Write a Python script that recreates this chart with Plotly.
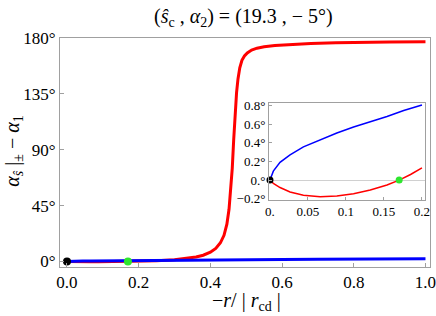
import plotly.graph_objects as go

# ---- data ----
blue_x = [0.0, 0.0044, 0.0132, 0.0264, 0.044, 0.066, 0.088, 0.11, 0.132, 0.154, 0.176, 0.2,
          0.3, 0.4, 0.5, 0.6, 0.7, 0.8, 0.9, 1.0]
blue_y = [0.0, 0.096, 0.19, 0.27, 0.356, 0.434, 0.505, 0.57, 0.626, 0.683, 0.747, 0.807,
          1.02, 1.22, 1.42, 1.6, 1.78, 1.93, 2.07, 2.2]

red_x = [0.0, 0.0044, 0.0132, 0.0264, 0.044, 0.066, 0.088, 0.11, 0.132, 0.154, 0.17, 0.185, 0.2,
         0.25, 0.3, 0.33, 0.36, 0.38, 0.40, 0.415, 0.428, 0.438, 0.446, 0.452, 0.457, 0.461,
         0.465, 0.469, 0.473, 0.477, 0.482, 0.488, 0.495, 0.503, 0.515, 0.53, 0.55, 0.58,
         0.62, 0.68, 0.75, 0.82, 0.9, 1.0]
red_y = [0.0, -0.035, -0.08, -0.128, -0.163, -0.178, -0.17, -0.146, -0.106, -0.053, 0.0, 0.06, 0.132,
         0.5, 1.3, 2.2, 3.6, 5.0, 7.5, 10.5, 15.0, 21.0, 30.0, 42.0, 57.0, 75.0,
         98.0, 120.0, 136.0, 147.0, 156.0, 162.0, 165.5, 168.0, 170.3, 171.8, 172.9, 173.9,
         174.8, 175.6, 176.1, 176.5, 176.7, 176.9]

point_x = [0.0, 0.17]
point_y = [0.0, 0.0]
point_colors = ["black", "#2ee62e"]

main_xticks = [0.0, 0.2, 0.4, 0.6, 0.8, 1.0]
main_xticklabels = ["0.0", "0.2", "0.4", "0.6", "0.8", "1.0"]
main_yticks = [0, 45, 90, 135, 180]
main_yticklabels = ["0°", "45°", "90°", "135°", "180°"]
inset_xticks = [0.0, 0.05, 0.1, 0.15, 0.2]
inset_xticklabels = ["0.", "0.05", "0.1", "0.15", "0.2"]
inset_yticks = [-0.2, 0.0, 0.2, 0.4, 0.6, 0.8]
inset_yticklabels = ["−0.2°", "0.°", "0.2°", "0.4°", "0.6°", "0.8°"]

title_text = "(<i>ŝ</i><sub>c</sub> , <i>α</i><sub>2</sub>) = (19.3 , − 5°)"
xlabel_text = "−<i>r</i>/ | <i>r</i><sub>cd</sub> |"
ylabel_text = "<i>α</i><sub><i>ŝ</i></sub> |<sub>±</sub> − <i>α</i><sub>1</sub>"

FONT = "Liberation Serif, Times New Roman, serif"
BLUE = "#0000ff"
RED = "#ff0000"
FRAME = "#a0a0a0"

FIG_W, FIG_H = 436, 316
# plot area in window pixels
L, R, T, B = 60, 430, 38, 267.5
W, H = R - L, B - T

def px(X):
    return (X - L) / W

def py(Y):
    return (B - Y) / H

fig = go.Figure()

# main plot
fig.add_trace(go.Scatter(x=red_x, y=red_y, mode="lines", line=dict(color=RED, width=3),
                         xaxis="x", yaxis="y", showlegend=False, hoverinfo="skip"))
fig.add_trace(go.Scatter(x=blue_x, y=blue_y, mode="lines", line=dict(color=BLUE, width=3),
                         xaxis="x", yaxis="y", showlegend=False, hoverinfo="skip"))
fig.add_trace(go.Scatter(x=point_x, y=point_y, mode="markers",
                         marker=dict(color=point_colors, size=8),
                         xaxis="x", yaxis="y", showlegend=False, hoverinfo="skip"))

# inset
inset_blue_x = [v for v in blue_x if v <= 0.2]
inset_blue_y = blue_y[:len(inset_blue_x)]
inset_red_x = [v for v in red_x if v <= 0.2]
inset_red_y = red_y[:len(inset_red_x)]
fig.add_trace(go.Scatter(x=inset_blue_x, y=inset_blue_y, mode="lines", line=dict(color=BLUE, width=1.5),
                         xaxis="x2", yaxis="y2", showlegend=False, hoverinfo="skip"))
fig.add_trace(go.Scatter(x=inset_red_x, y=inset_red_y, mode="lines", line=dict(color=RED, width=1.5),
                         xaxis="x2", yaxis="y2", showlegend=False, hoverinfo="skip"))
fig.add_trace(go.Scatter(x=point_x, y=point_y, mode="markers",
                         marker=dict(color=point_colors, size=7),
                         xaxis="x2", yaxis="y2", showlegend=False, hoverinfo="skip", cliponaxis=False))

axis_common = dict(showgrid=False, showline=True, linecolor=FRAME, linewidth=1, mirror=True,
                   ticks="inside", tickcolor=FRAME, automargin=False, ticklabeloverflow="allow")

fig.update_layout(
    width=FIG_W, height=FIG_H,
    margin=dict(l=L, r=FIG_W - R, t=T, b=FIG_H - B, pad=0),
    paper_bgcolor="white", plot_bgcolor="white",
    font=dict(family=FONT, color="black"),
    xaxis=dict(domain=[0, 1], range=[-0.0195, 1.0126], tickvals=main_xticks, ticktext=main_xticklabels,
               ticklen=4, tickfont=dict(size=17, family=FONT), zeroline=False, **axis_common),
    yaxis=dict(domain=[0, 1], range=[-4.5, 180], tickvals=main_yticks, ticktext=main_yticklabels,
               ticklen=4, tickfont=dict(size=17, family=FONT), zeroline=False, **axis_common),
    xaxis2=dict(domain=[px(269), px(425)], anchor="y2", range=[-0.0013, 0.204],
                tickvals=inset_xticks, ticktext=inset_xticklabels, ticklen=3, zeroline=False,
                tickfont=dict(size=13, family=FONT), **axis_common),
    yaxis2=dict(domain=[py(200), py(103)], anchor="x2", range=[-0.21, 0.829],
                tickvals=inset_yticks, ticktext=inset_yticklabels, ticklen=3,
                zeroline=True, zerolinecolor="#d0d0d0", zerolinewidth=1,
                tickfont=dict(size=13, family=FONT), **axis_common),
    annotations=[
        dict(text=title_text, xref="paper", yref="paper", x=px(243), y=py(17),
             xanchor="center", yanchor="middle", showarrow=False, font=dict(size=20, family=FONT)),
        dict(text=xlabel_text, xref="paper", yref="paper", x=px(246), y=py(302),
             xanchor="center", yanchor="middle", showarrow=False, font=dict(size=20, family=FONT)),
        dict(text=ylabel_text, xref="paper", yref="paper", x=px(14), y=py(152),
             xanchor="center", yanchor="middle", showarrow=False, textangle=-90,
             font=dict(size=20, family=FONT)),
    ],
)

# remove the browser's default 8px body margin so the figure fills the window exactly
fig.write_html("out.html", config={"displayModeBar": False},
               post_script="document.body.style.margin='0';")
